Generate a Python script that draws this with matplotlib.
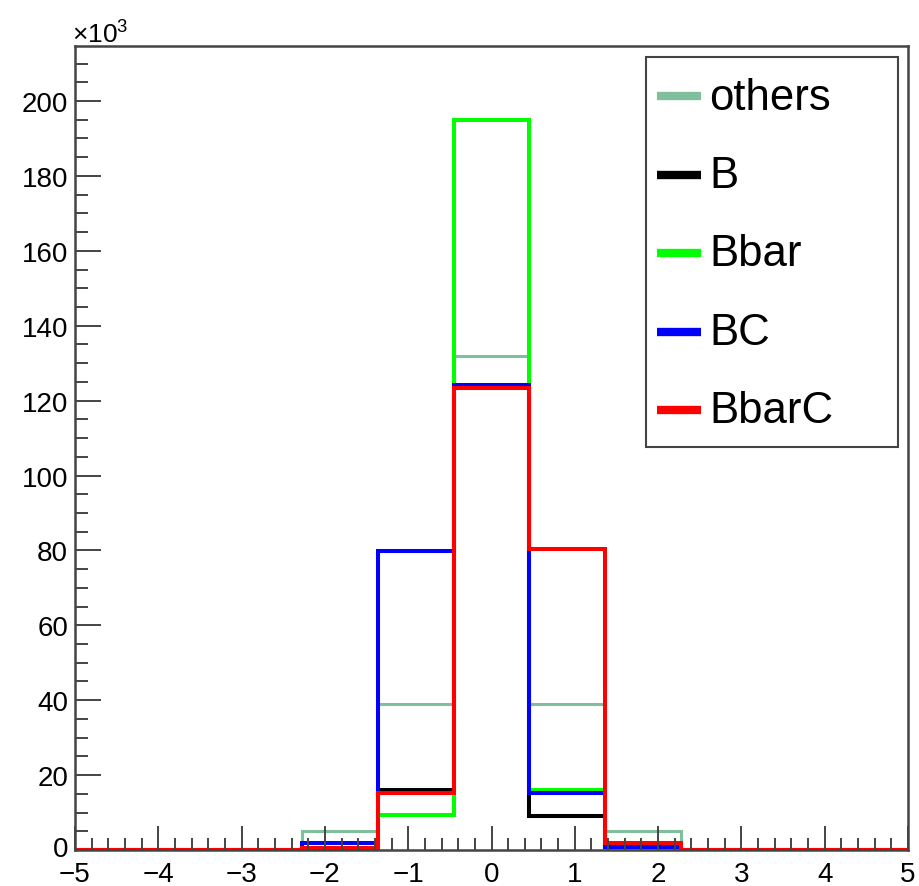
import numpy as np
import matplotlib
matplotlib.use("Agg")
import matplotlib.pyplot as plt
import matplotlib.transforms as mtransforms
from matplotlib.ticker import MultipleLocator, FuncFormatter
from matplotlib.lines import Line2D
from matplotlib.patches import Rectangle

plt.rcParams['font.family'] = ['Liberation Sans', 'DejaVu Sans']
plt.rcParams['mathtext.default'] = 'regular'

# ---- data (counts per bin, 11 bins from -5 to 5) ----
n_bins = 11
x_min, x_max = -5.0, 5.0
others = [0, 0, 0, 5100, 39000, 131800, 39000, 5100, 0, 0, 0]
B      = [0, 0, 0, 300, 16100, 123300, 9000, 300, 0, 0, 0]
Bbar   = [0, 0, 0, 300, 9300, 195000, 16100, 300, 0, 0, 0]
BC     = [0, 0, 0, 1900, 79800, 124200, 15200, 800, 0, 0, 0]
BbarC  = [0, 0, 0, 500, 15200, 123300, 80400, 1900, 0, 0, 0]
labels = ["others", "B", "Bbar", "BC", "BbarC"]
colors = ["#80bf9c", "#000000", "#00ff00", "#0000ff", "#ff0000"]
widths = [2.2, 2.9, 2.9, 2.9, 2.9]
series = [others, B, Bbar, BC, BbarC]

edges = np.linspace(x_min, x_max, n_bins + 1)

W, H = 919, 887
fig = plt.figure(figsize=(W / 100, H / 100), dpi=100)
ax = fig.add_axes([75 / W, 1 - 851 / H, 833 / W, 804 / H])

for vals, c, lw in zip(series, colors, widths):
    ax.stairs(np.array(vals, dtype=float), edges, color=c, linewidth=lw, baseline=0)

ax.set_xlim(x_min, x_max)
ax.set_ylim(0, 214700)

ax.xaxis.set_major_locator(MultipleLocator(1))
ax.xaxis.set_minor_locator(MultipleLocator(0.2))
ax.yaxis.set_major_locator(MultipleLocator(20000))
ax.yaxis.set_minor_locator(MultipleLocator(5000))
ax.yaxis.set_major_formatter(FuncFormatter(lambda v, p: f"{v/1000:.0f}"))
ax.xaxis.set_major_formatter(FuncFormatter(lambda v, p: f"{v:.0f}".replace("-", "\u2212")))

ax.tick_params(which='both', direction='in', top=False, right=False, width=1.4, color='#444444', labelsize=20)
ax.tick_params(axis='y', which='major', length=18.7, pad=5)
ax.tick_params(axis='y', which='minor', length=9.4)
ax.tick_params(axis='x', which='major', length=17.3, pad=8)
ax.tick_params(axis='x', which='minor', length=8.6)
for s in ax.spines.values():
    s.set_linewidth(1.8)
    s.set_color('#444444')
    s.set_zorder(5)

# nudge the y "0" label up a few pixels so it sits just above the x labels
fig.canvas.draw()
shift = mtransforms.ScaledTranslation(0, 4 / 100, fig.dpi_scale_trans)
for t in ax.yaxis.get_majorticklabels():
    if t.get_text() == "0":
        t.set_transform(t.get_transform() + shift)

fig.text(72 / W, 1 - 44 / H, "×10$^{3}$", fontsize=19, ha='left', va='baseline')

# ---- legend box (drawn in figure pixel layout) ----
def fx(px):
    return px / W

def fy(py):
    return 1 - py / H

fig.patches.append(Rectangle((fx(646), fy(448)), 252 / W, 390 / H, transform=fig.transFigure,
                             facecolor='white', edgecolor='#444444', linewidth=1.5, zorder=10))
for i, (lab, c) in enumerate(zip(labels, colors)):
    yc = 97 + i * 78.5
    fig.add_artist(Line2D([fx(657), fx(701)], [fy(yc), fy(yc)], transform=fig.transFigure,
                          color=c, linewidth=6, solid_capstyle='butt', zorder=11))
    fig.text(fx(709), fy(yc + 1), lab, fontsize=31.5, ha='left', va='center', zorder=12)

fig.savefig("out.png", dpi=100)
